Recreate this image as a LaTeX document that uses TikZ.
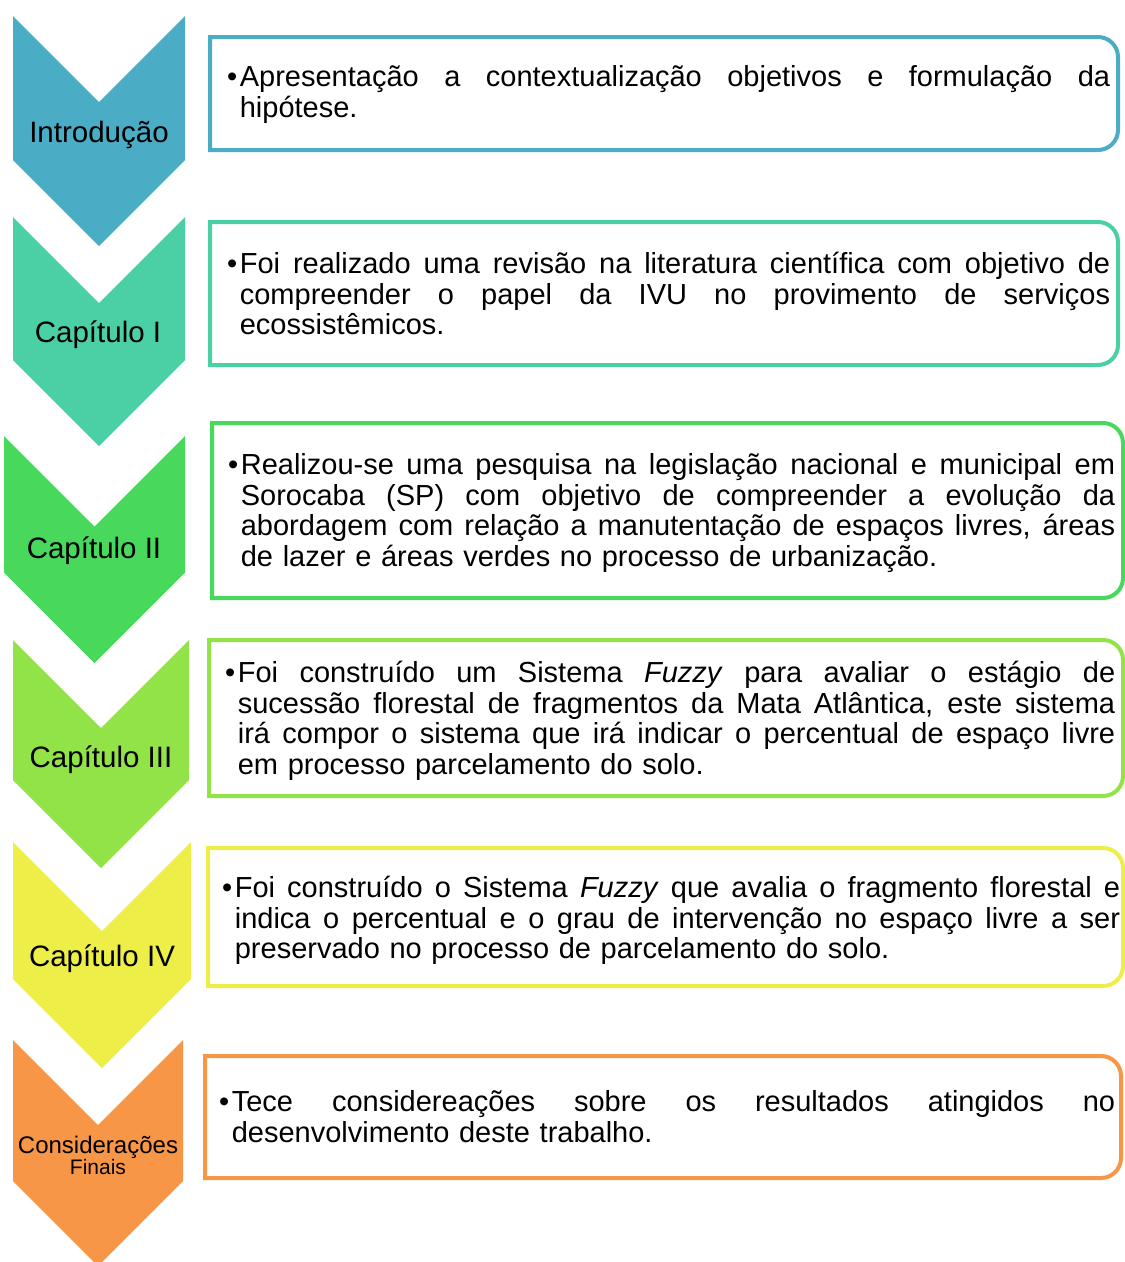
\documentclass[tikz,border=0pt]{standalone}
\usepackage{fontspec}
\setmainfont{Liberation Sans}
\definecolor{cIntro}{RGB}{75,172,198}
\definecolor{cCapI}{RGB}{75,207,165}
\definecolor{cCapII}{RGB}{72,217,92}
\definecolor{cCapIII}{RGB}{145,227,72}
\definecolor{cCapIV}{RGB}{237,238,72}
\definecolor{cFinal}{RGB}{247,150,70}
\newcommand{\jl}[1]{\makebox[\hsize][s]{\spaceskip=0pt\xspaceskip=0pt\relax#1}}
\newcommand{\bul}{•\kern2.5pt}
\newcommand{\ind}{\phantom{\bul}}
\tikzset{
  lbl/.style={font=\fontsize{29.5}{32}\selectfont,inner sep=0pt,anchor=base},
  txt/.style={font=\fontsize{29}{30.5}\selectfont,inner sep=0pt,anchor=base west,align=left}
}
\begin{document}
\begin{tikzpicture}
  [x=1pt,y=-1pt]
\useasboundingbox[fill=white] (0,0) rectangle (1125,1262);

\foreach \xl/\xr/\yt/\yp/\col in {13/185/16/246/cIntro,13/185/217/446/cCapI,4/185/436/663/cCapII,13/189/640/868/cCapIII,13/191/842/1068/cCapIV,13/183/1040/1266/cFinal}
  \fill[\col] (\xl,\yt) -- ({(\xl+\xr)/2},{\yt+(\xr-\xl)/2}) -- (\xr,\yt) -- (\xr,{\yp-(\xr-\xl)/2})
    -- ({(\xl+\xr)/2},\yp) -- (\xl,{\yp-(\xr-\xl)/2}) -- cycle;

\foreach \xl/\xr/\yt/\yb/\col in {210/1118/37/150/cIntro,210/1118/222/365/cCapI,212/1123/423/598/cCapII,209/1123/640/796/cCapIII,208/1123/848/986/cCapIV,205/1121/1056/1178/cFinal}
  \draw[\col,line width=4pt] (\xl,\yb) -- (\xl,\yt) -- ({\xr-20},\yt) arc[start angle=-90,end angle=0,radius=20]
    -- (\xr,{\yb-20}) arc[start angle=0,end angle=90,radius=20] -- cycle;

\node (c1)[lbl] at (99,142) {Introdução};
\node (c2)[lbl] at (98,342) {Capítulo I};
\node (c3)[lbl] at (94,558) {Capítulo II};
\node (c4)[lbl] at (101,767) {Capítulo III};
\node (c5)[lbl] at (102,966) {Capítulo IV};
\node (c6)[lbl,align=center,font=\fontsize{24}{21}\selectfont] at (98,1174)
  {Considerações\\\fontsize{21}{21}\selectfont Finais};

\node (t1)[txt,text width=883pt] at (227,86.5)
  {\jl{\bul Apresentação a contextualização objetivos e formulação da}\\
   \ind hipótese.};
\node (t2)[txt,text width=883pt] at (227,273.5)
  {\jl{\bul Foi realizado uma revisão na literatura científica com objetivo de}\\
   \jl{\ind compreender o papel da IVU no provimento de serviços}\\
   \ind ecossistêmicos.};
\node (t3)[txt,text width=887pt] at (228,474.5)
  {\jl{\bul Realizou-se uma pesquisa na legislação nacional e municipal em}\\
   \jl{\ind Sorocaba (SP) com objetivo de compreender a evolução da}\\
   \jl{\ind abordagem com relação a manutentação de espaços livres, áreas}\\
   \ind de lazer e áreas verdes no processo de urbanização.};
\node (t4)[txt,text width=890pt] at (225,682.5)
  {\jl{\bul Foi construído um Sistema \textit{Fuzzy} para avaliar o estágio de}\\
   \jl{\ind sucessão florestal de fragmentos da Mata Atlântica, este sistema}\\
   \jl{\ind irá compor o sistema que irá indicar o percentual de espaço livre}\\
   \ind em processo parcelamento do solo.};
\node (t5)[txt,text width=898pt] at (222,897.5)
  {\jl{\bul Foi construído o Sistema \textit{Fuzzy} que avalia o fragmento florestal e}\\
   \jl{\ind indica o percentual e o grau de intervenção no espaço livre a ser}\\
   \ind preservado no processo de parcelamento do solo.};
\node (t6)[txt,text width=896pt] at (219,1111.5)
  {\jl{\bul Tece considereações sobre os resultados atingidos no}\\
   \ind desenvolvimento deste trabalho.};
\end{tikzpicture}
\end{document}
